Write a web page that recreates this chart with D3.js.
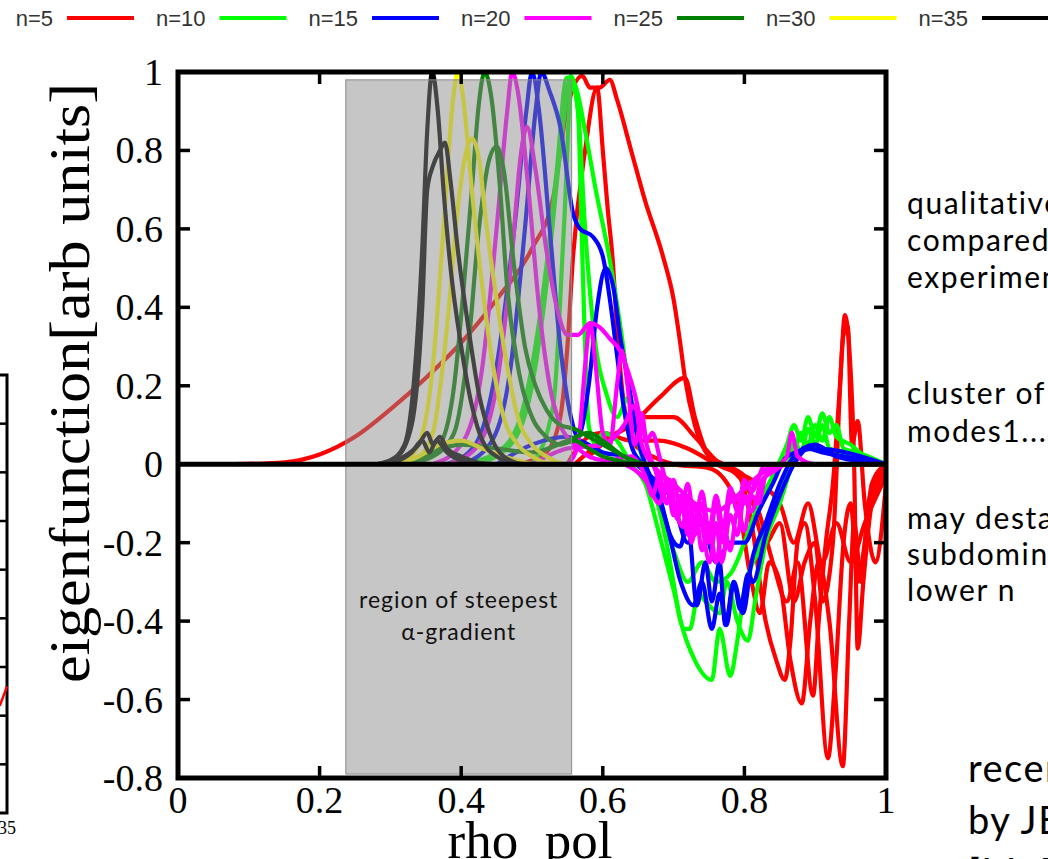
<!DOCTYPE html>
<html>
<head>
<meta charset="utf-8">
<script src="https://cdn.jsdelivr.net/npm/d3@7"></script>
<style>
  html, body { margin: 0; padding: 0; background: #fff; overflow: hidden; }
  svg { display: block; }
</style>
</head>
<body>
<script>
'use strict';

// legend entries
const legendLabels = ["n=5", "n=10", "n=15", "n=20", "n=25", "n=30", "n=35"];
const legendColors = ["#ff0000", "#00ff00", "#0000ff", "#ff00ff", "#008000", "#ffff00", "#000000"];

// axis ticks
const xTicks = [0, 0.2, 0.4, 0.6, 0.8, 1];
const yTicks = [1, 0.8, 0.6, 0.4, 0.2, 0, -0.2, -0.4, -0.6, -0.8];

// shaded region (rho_pol range, eigenfunction range)
const regionX = [0.237, 0.556];
const regionY = [0.98, -0.79];

// eigenfunctions, [rho_pol, value]
const n5Curves = [
  [[0.08,0],[0.15,0.005],[0.2,0.025],[0.25,0.07],[0.3,0.14],[0.35,0.22],[0.4,0.31],[0.45,0.42],[0.5,0.55],[0.53,0.68],[0.549,0.9],[0.571,0.99],[0.582,0.96],[0.595,0.96],[0.61,0.98],[0.62,0.93],[0.64,0.8],[0.66,0.67],[0.685,0.53],[0.7,0.42],[0.71,0.3],[0.716,0.22],[0.73,0.1],[0.75,0.02],[0.77,0],[0.79,-0.02],[0.81,-0.15],[0.83,-0.4],[0.845,-0.5],[0.857,-0.55],[0.865,-0.45],[0.875,-0.2],[0.885,-0.15],[0.9,-0.35],[0.918,-0.75],[0.928,-0.55],[0.94,-0.2],[0.95,-0.1],[0.96,-0.3],[0.97,-0.2],[0.98,-0.05],[1.0,0]],
  [[0.48,0],[0.52,0.03],[0.54,0.12],[0.55,0.3],[0.558,0.53],[0.575,0.8],[0.592,0.96],[0.6,0.8],[0.607,0.65],[0.614,0.52],[0.62,0.35],[0.63,0.15],[0.645,0.05],[0.67,0.02],[0.7,0],[0.75,-0.01],[0.79,-0.1],[0.81,-0.3],[0.822,-0.38],[0.835,-0.25],[0.85,-0.3],[0.865,-0.5],[0.881,-0.61],[0.893,-0.4],[0.905,-0.25],[0.92,-0.4],[0.939,-0.77],[0.948,-0.4],[0.955,-0.15],[0.965,-0.3],[0.975,-0.1],[0.99,-0.03],[1.0,0]],
  [[0.56,0],[0.6,0.06],[0.64,0.1],[0.68,0.17],[0.716,0.22],[0.73,0.12],[0.75,0.02],[0.77,0],[0.8,-0.05],[0.82,-0.12],[0.84,-0.25],[0.86,-0.35],[0.875,-0.25],[0.897,-0.59],[0.905,-0.4],[0.915,-0.2],[0.925,-0.05],[0.935,0.2],[0.942,0.38],[0.948,0.3],[0.955,0],[0.96,-0.47],[0.968,-0.3],[0.98,-0.1],[1.0,-0.02]],
  [[0.58,0.02],[0.62,0.08],[0.66,0.12],[0.7,0.12],[0.73,0.07],[0.76,0.01],[0.8,-0.03],[0.83,-0.2],[0.85,-0.15],[0.87,-0.35],[0.885,-0.25],[0.9,-0.2],[0.91,-0.35],[0.925,-0.2],[0.94,0.33],[0.946,0.35],[0.952,0.05],[0.96,0.11],[0.97,-0.1],[0.985,-0.25],[1.0,-0.05]],
  [[0.55,0],[0.56,0.03],[0.58,0.07],[0.6,0.08],[0.64,0.06],[0.68,0.06],[0.72,0.04],[0.76,0],[0.82,-0.05],[0.85,-0.1],[0.87,-0.2],[0.89,-0.1],[0.91,-0.25],[0.93,-0.15],[0.95,-0.25],[0.97,-0.15],[1.0,-0.03]]
];

const n10Curves = [
  [[0.4,0],[0.45,0.03],[0.48,0.1],[0.5,0.25],[0.52,0.5],[0.535,0.75],[0.549,0.985],[0.56,0.97],[0.575,0.85],[0.59,0.7],[0.61,0.52],[0.625,0.35],[0.64,0.15],[0.655,0.02],[0.67,-0.05],[0.69,-0.2],[0.71,-0.4],[0.73,-0.5],[0.754,-0.55],[0.765,-0.42],[0.78,-0.54],[0.79,-0.45],[0.8,-0.32],[0.82,-0.22],[0.84,-0.12],[0.86,-0.02],[0.87,0.06],[0.88,0.03],[0.89,0.09],[0.9,0.05],[0.91,0.1],[0.92,0.04],[0.94,0.03],[0.97,0.01],[1.0,0]],
  [[0.42,0],[0.47,0.05],[0.5,0.2],[0.52,0.45],[0.54,0.8],[0.555,0.99],[0.565,0.9],[0.57,0.6],[0.575,0.3],[0.58,0.1],[0.59,0.05],[0.6,0.08],[0.62,0.06],[0.64,0],[0.66,-0.05],[0.68,-0.18],[0.7,-0.32],[0.715,-0.42],[0.723,-0.42],[0.735,-0.33],[0.745,-0.35],[0.765,-0.38],[0.775,-0.3],[0.79,-0.4],[0.805,-0.45],[0.815,-0.35],[0.83,-0.2],[0.85,-0.1],[0.87,0.02],[0.88,0.08],[0.89,0.05],[0.9,0.1],[0.91,0.06],[0.92,0.12],[0.93,0.07],[0.95,0.05],[0.97,0.02],[1.0,0]],
  [[0.5,0],[0.53,0.15],[0.545,0.6],[0.556,0.97],[0.565,0.9],[0.575,0.6],[0.59,0.3],[0.605,0.18],[0.62,0.12],[0.636,0.17],[0.645,0.1],[0.66,0],[0.68,-0.1],[0.7,-0.22],[0.72,-0.3],[0.74,-0.25],[0.76,-0.3],[0.78,-0.28],[0.8,-0.2],[0.82,-0.1],[0.84,-0.03],[0.86,0.05],[0.87,0.1],[0.88,0.06],[0.89,0.12],[0.9,0.07],[0.91,0.13],[0.92,0.08],[0.93,0.1],[0.94,0.04],[0.96,0.03],[1.0,0]]
];

const n15Curves = [
  [[0.4,0],[0.44,0.05],[0.47,0.25],[0.49,0.6],[0.505,0.9],[0.513,1.0],[0.525,0.95],[0.54,0.86],[0.558,0.64],[0.568,0.6],[0.586,0.58],[0.6,0.53],[0.61,0.42],[0.62,0.28],[0.63,0.14],[0.64,0.05],[0.655,0],[0.67,-0.05],[0.69,-0.15],[0.71,-0.3],[0.728,-0.36],[0.74,-0.3],[0.754,-0.42],[0.765,-0.33],[0.775,-0.41],[0.785,-0.3],[0.794,-0.37],[0.805,-0.28],[0.812,-0.3],[0.83,-0.18],[0.85,-0.08],[0.87,0],[0.89,0.04],[0.91,0.03],[0.94,0.02],[1.0,0]],
  [[0.38,0],[0.42,0.05],[0.45,0.25],[0.475,0.6],[0.492,0.9],[0.5,1.0],[0.51,0.9],[0.525,0.6],[0.54,0.3],[0.555,0.12],[0.565,0.07],[0.58,0.2],[0.592,0.4],[0.604,0.5],[0.615,0.45],[0.625,0.32],[0.637,0.2],[0.65,0.06],[0.66,0],[0.68,-0.08],[0.695,-0.18],[0.709,-0.21],[0.72,-0.15],[0.733,-0.36],[0.745,-0.25],[0.754,-0.35],[0.765,-0.25],[0.773,-0.41],[0.785,-0.3],[0.798,-0.38],[0.81,-0.25],[0.83,-0.15],[0.85,-0.05],[0.87,0.02],[0.9,0.05],[0.93,0.02],[1.0,0]],
  [[0.45,0],[0.5,0.05],[0.55,0.07],[0.58,0.05],[0.6,0.03],[0.63,0.02],[0.66,-0.02],[0.7,-0.1],[0.72,-0.2],[0.74,-0.15],[0.76,-0.25],[0.78,-0.2],[0.8,-0.2],[0.82,-0.12],[0.84,-0.05],[0.86,0.02],[0.9,0.04],[1.0,0]]
];

const n20Curves = [
  [[0.36,0],[0.4,0.05],[0.43,0.25],[0.45,0.6],[0.465,0.9],[0.472,1.0],[0.48,0.95],[0.495,0.7],[0.51,0.4],[0.525,0.2],[0.54,0.1],[0.56,0.05],[0.58,0.02],[0.6,0.01],[0.63,0],[0.66,-0.04],[0.68,-0.1],[0.69,-0.05],[0.7,-0.13],[0.71,-0.08],[0.72,-0.18],[0.73,-0.1],[0.74,-0.22],[0.75,-0.15],[0.76,-0.25],[0.77,-0.15],[0.78,-0.22],[0.79,-0.12],[0.8,-0.17],[0.81,-0.08],[0.82,-0.1],[0.83,-0.03],[0.85,0],[0.86,0.02],[0.867,0.08],[0.875,0.02],[0.9,0],[1.0,0]],
  [[0.38,0],[0.42,0.04],[0.45,0.2],[0.47,0.5],[0.485,0.8],[0.493,0.86],[0.505,0.75],[0.52,0.55],[0.535,0.4],[0.55,0.33],[0.565,0.33],[0.582,0.36],[0.595,0.35],[0.61,0.32],[0.624,0.29],[0.635,0.24],[0.645,0.18],[0.655,0.1],[0.665,0.03],[0.675,-0.02],[0.685,-0.08],[0.695,-0.04],[0.705,-0.14],[0.715,-0.08],[0.725,-0.2],[0.735,-0.12],[0.751,-0.25],[0.76,-0.15],[0.768,-0.25],[0.78,-0.13],[0.79,-0.18],[0.8,-0.08],[0.81,-0.12],[0.825,-0.04],[0.84,-0.02],[0.86,0],[1.0,0]],
  [[0.55,0],[0.565,0.05],[0.575,0.25],[0.582,0.36],[0.59,0.25],[0.6,0.08],[0.61,0.05],[0.62,0.2],[0.627,0.29],[0.635,0.2],[0.645,0.05],[0.65,0.08],[0.655,0.13],[0.662,0.06],[0.67,0.08],[0.68,0.02],[0.69,-0.05],[0.7,-0.1],[0.713,-0.16],[0.72,-0.08],[0.73,-0.18],[0.74,-0.1],[0.75,-0.2],[0.76,-0.1],[0.77,-0.2],[0.78,-0.08],[0.8,-0.1],[0.82,-0.03],[0.85,0],[1.0,0]],
  [[0.5,0],[0.55,0.04],[0.6,0.05],[0.63,0.1],[0.645,0.15],[0.655,0.05],[0.67,0],[0.7,-0.05],[0.73,-0.1],[0.76,-0.12],[0.79,-0.08],[0.82,-0.03],[0.85,0],[1.0,0]],
  [[0.6,0],[0.64,0.02],[0.66,-0.03],[0.67,-0.08],[0.68,-0.03],[0.69,-0.1],[0.7,-0.04],[0.71,-0.12],[0.72,-0.05],[0.73,-0.15],[0.74,-0.07],[0.75,-0.17],[0.76,-0.08],[0.77,-0.16],[0.78,-0.06],[0.79,-0.12],[0.8,-0.04],[0.81,-0.07],[0.83,0],[1.0,0]]
];

const n25Curves = [
  [[0.3,0],[0.34,0.01],[0.37,0.05],[0.39,0.2],[0.403,0.44],[0.415,0.7],[0.425,0.92],[0.433,1.0],[0.443,0.93],[0.455,0.7],[0.465,0.45],[0.48,0.25],[0.5,0.12],[0.52,0.07],[0.54,0.05],[0.56,0.06],[0.58,0.04],[0.6,0.02],[0.62,0.01],[0.65,0],[1.0,0]],
  [[0.32,0],[0.36,0.02],[0.39,0.08],[0.41,0.3],[0.425,0.6],[0.44,0.78],[0.45,0.81],[0.46,0.75],[0.475,0.5],[0.49,0.3],[0.505,0.2],[0.52,0.14],[0.54,0.1],[0.56,0.09],[0.58,0.07],[0.6,0.05],[0.62,0.03],[0.64,0.01],[0.66,0],[1.0,0]],
  [[0.33,0],[0.36,0.03],[0.4,0.05],[0.45,0.04],[0.5,0.03],[0.55,0.06],[0.58,0.08],[0.6,0.06],[0.63,0.02],[0.66,0]]
];

const n30Curves = [
  [[0.28,0],[0.32,0.01],[0.34,0.05],[0.36,0.25],[0.375,0.6],[0.388,0.92],[0.395,1.0],[0.403,0.93],[0.415,0.7],[0.43,0.45],[0.445,0.25],[0.46,0.12],[0.48,0.05],[0.5,0.02],[0.53,0],[1.0,0]],
  [[0.3,0],[0.34,0.02],[0.36,0.08],[0.38,0.35],[0.395,0.65],[0.405,0.78],[0.415,0.83],[0.425,0.78],[0.435,0.62],[0.45,0.42],[0.465,0.25],[0.48,0.12],[0.5,0.05],[0.52,0.02],[0.55,0],[1.0,0]],
  [[0.3,0],[0.34,0.02],[0.37,0.05],[0.4,0.06],[0.43,0.04],[0.46,0.02],[0.5,0]]
];

const n35Curves = [
  [[0.28,0],[0.3,0.01],[0.32,0.05],[0.335,0.25],[0.345,0.55],[0.352,0.85],[0.359,1.0],[0.367,0.9],[0.375,0.7],[0.385,0.5],[0.4,0.3],[0.415,0.15],[0.43,0.06],[0.45,0.02],[0.48,0],[1.0,0]],
  [[0.28,0],[0.31,0.02],[0.33,0.1],[0.345,0.4],[0.352,0.7],[0.36,0.76],[0.37,0.8],[0.377,0.82],[0.385,0.72],[0.395,0.55],[0.41,0.35],[0.425,0.18],[0.44,0.08],[0.46,0.02],[0.49,0],[1.0,0]],
  [[0.29,0],[0.32,0.02],[0.34,0.05],[0.352,0.08],[0.36,0.05],[0.37,0.07],[0.38,0.04],[0.4,0.02],[0.43,0]],
  [[0.3,0],[0.33,0.03],[0.345,0.06],[0.355,0.03],[0.365,0.06],[0.38,0.03],[0.4,0.01],[0.45,0]]
];

const allCurves = [n5Curves, n10Curves, n15Curves, n20Curves, n25Curves, n30Curves, n35Curves];

// text on the slide around the plot
const regionLabel = ["region of steepest", "\u03b1-gradient"];
const notesTop = ["qualitatively", "compared with", "experiment"];
const notesMid = ["cluster of", "modes1..."];
const notesLow = ["may destabilize", "subdominant", "lower n"];
const notesBottom = ["recently", "by JET", "[M. F"];

// partial panel at the left edge
const leftTicks = [1, 2, 3, 4, 5, 6, 7, 8];
const leftRed = [[34.5, 2.2], [35, 2.6]];

const svg = d3.select('body').append('svg')
  .attr('width', 1048)
  .attr('height', 859);

const x = d3.scaleLinear().domain([0, 1]).range([178, 886]);
const y = d3.scaleLinear().domain([-0.8, 1]).range([778, 72]);
const color = d3.scaleOrdinal().domain(legendLabels).range(legendColors);

// legend row at top: text then a short line sample
const legendLine = d3.scaleLinear().domain([0, 6]).range([67, 982]);
const leg = svg.append('g');
legendLabels.forEach((lab, i) => {
  leg.append('text')
    .attr('x', legendLine(i) - 14)
    .attr('y', 26)
    .attr('text-anchor', 'end')
    .style('font-family', 'Liberation Sans, Arial, sans-serif')
    .style('font-size', '22px')
    .style('fill', '#333')
    .text(lab);
  leg.append('line')
    .attr('x1', legendLine(i))
    .attr('x2', legendLine(i) + 67 + (i === 6 ? 40 : 0))
    .attr('y1', 18).attr('y2', 18)
    .style('stroke', color(lab))
    .style('stroke-width', 4);
});

// curves
const line = d3.line()
  .x(d => x(d[0]))
  .y(d => y(d[1]))
  .curve(d3.curveMonotoneX);

const curveG = svg.append('g');
allCurves.forEach((fam, i) => {
  curveG.selectAll(null)
    .data(fam)
    .enter()
    .append('path')
      .attr('d', line)
      .style('fill', 'none')
      .style('stroke', color(legendLabels[i]))
      .style('stroke-width', 4.2)
      .style('stroke-linejoin', 'round');
});

// shaded region over the curves
svg.append('rect')
  .attr('x', x(regionX[0]))
  .attr('y', y(regionY[0]))
  .attr('width', x(regionX[1]) - x(regionX[0]))
  .attr('height', y(regionY[1]) - y(regionY[0]))
  .style('fill', 'rgb(139,139,139)')
  .style('fill-opacity', 0.49)
  .style('stroke', '#8a8a8a')
  .style('stroke-width', 1);

regionLabel.forEach((t, i) => {
  svg.append('text')
    .attr('x', (x(regionX[0]) + x(regionX[1])) / 2)
    .attr('y', 608 + i * 32)
    .attr('text-anchor', 'middle')
    .style('font-family', 'Lato, sans-serif')
    .style('font-size', '23px')
    .style('letter-spacing', '1px')
    .style('fill', '#111')
    .text(t);
});

// zero line
svg.append('line')
  .attr('x1', x(0)).attr('x2', x(1))
  .attr('y1', y(0)).attr('y2', y(0))
  .style('stroke', '#000')
  .style('stroke-width', 5);

// frame with inward ticks
svg.append('rect')
  .attr('x', x(0)).attr('y', y(1))
  .attr('width', x(1) - x(0))
  .attr('height', y(-0.8) - y(1))
  .style('fill', 'none')
  .style('stroke', '#000')
  .style('stroke-width', 5);

const tickG = svg.append('g').style('stroke', '#000').style('stroke-width', 3.5);
xTicks.slice(1, -1).forEach(v => {
  tickG.append('line').attr('x1', x(v)).attr('x2', x(v)).attr('y1', y(-0.8)).attr('y2', y(-0.8) - 12);
  tickG.append('line').attr('x1', x(v)).attr('x2', x(v)).attr('y1', y(1)).attr('y2', y(1) + 12);
});
yTicks.slice(1, -1).forEach(v => {
  tickG.append('line').attr('x1', x(0)).attr('x2', x(0) + 12).attr('y1', y(v)).attr('y2', y(v));
  tickG.append('line').attr('x1', x(1)).attr('x2', x(1) - 12).attr('y1', y(v)).attr('y2', y(v));
});

// tick labels (plain hyphen minus, as in the plot)
const serif = 'Liberation Serif, Times New Roman, serif';
svg.append('g').selectAll('text')
  .data(xTicks)
  .enter()
  .append('text')
    .attr('x', d => x(d))
    .attr('y', 813)
    .attr('text-anchor', 'middle')
    .style('font-family', serif)
    .style('font-size', '38px')
    .text(d => String(d));

svg.append('g').selectAll('text')
  .data(yTicks)
  .enter()
  .append('text')
    .attr('x', 163)
    .attr('y', d => y(d) + 13)
    .attr('text-anchor', 'end')
    .style('font-family', serif)
    .style('font-size', '38px')
    .text(d => String(d));

// axis titles
svg.append('text')
  .attr('transform', 'translate(89, 383) rotate(-90)')
  .attr('text-anchor', 'middle')
  .attr('textLength', 600)
  .attr('lengthAdjust', 'spacingAndGlyphs')
  .style('font-family', serif)
  .style('font-size', '56px')
  .text('eigenfunction[arb units]');

svg.append('text')
  .attr('x', 530)
  .attr('y', 858)
  .attr('text-anchor', 'middle')
  .style('font-family', serif)
  .style('font-size', '53px')
  .text('rho_pol');

// notes on the right
function notes(lines, x0, y0, step, size, spacing) {
  lines.forEach((t, i) => {
    svg.append('text')
      .attr('x', x0)
      .attr('y', y0 + i * step)
      .style('font-family', 'Lato, sans-serif')
      .style('font-size', size + 'px')
      .style('letter-spacing', spacing + 'px')
      .style('fill', '#000')
      .text(t);
  });
}
notes(notesTop, 907, 214, 37, 30, 1.6);
notes(notesMid, 907, 404, 38, 30, 1.6);
notes(notesLow, 907, 529, 36, 30, 1.6);
notes(notesBottom, 968, 782, 52, 38, 1.5);

// partial panel at left edge
const lx = d3.scaleLinear().domain([0, 35]).range([-500, 7]);
const ly = d3.scaleLinear().domain([0, 9]).range([813, 375]);
svg.append('rect')
  .attr('x', lx(0)).attr('y', ly(9))
  .attr('width', lx(35) - lx(0))
  .attr('height', ly(0) - ly(9))
  .style('fill', 'none')
  .style('stroke', '#000')
  .style('stroke-width', 3);
leftTicks.forEach(v => {
  svg.append('line')
    .attr('x1', lx(35)).attr('x2', lx(35) - 8)
    .attr('y1', ly(v)).attr('y2', ly(v))
    .style('stroke', '#000').style('stroke-width', 2.5);
});
svg.append('path')
  .datum(leftRed)
  .attr('d', d3.line().x(d => lx(d[0])).y(d => ly(d[1])))
  .style('fill', 'none')
  .style('stroke', '#ff0000')
  .style('stroke-width', 2.5);
svg.append('text')
  .attr('x', lx(35))
  .attr('y', 834)
  .attr('text-anchor', 'middle')
  .style('font-family', serif)
  .style('font-size', '18px')
  .text('35');
</script>
</body>
</html>
